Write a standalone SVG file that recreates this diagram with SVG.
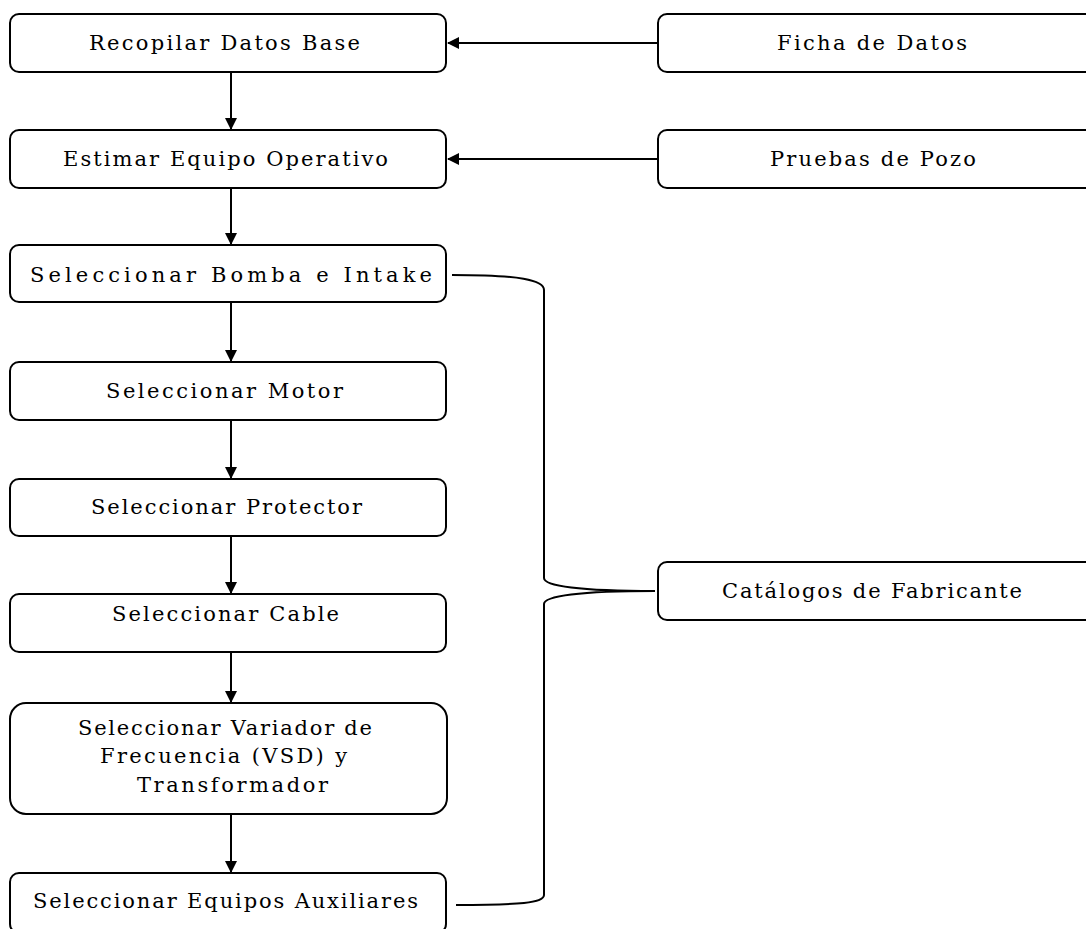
<svg xmlns="http://www.w3.org/2000/svg" width="1086" height="929" viewBox="0 0 1086 929">
<style>
.box{fill:#fff;stroke:#000;stroke-width:2}
.t{font-family:"DejaVu Serif","Liberation Serif",serif;font-size:21px;fill:#000}
.c{fill:none;stroke:#000;stroke-width:2}
</style>
<defs>
<marker id="ah" markerWidth="12" markerHeight="12" refX="11" refY="6" orient="auto" markerUnits="userSpaceOnUse">
<path d="M0,0 L12,6 L0,12 Z" fill="#000"/>
</marker>
</defs>
<rect width="1086" height="929" fill="#fff"/>
<g id="n1"><rect class="box" x="10" y="14" width="436" height="58" rx="9"/><text class="t" x="89" y="50" textLength="271" lengthAdjust="spacing">Recopilar Datos Base</text></g>
<g id="n2"><rect class="box" x="10" y="130" width="436" height="58" rx="9"/><text class="t" x="63" y="166" textLength="325" lengthAdjust="spacing">Estimar Equipo Operativo</text></g>
<g id="n3"><rect class="box" x="10" y="245" width="436" height="57" rx="9"/><text class="t" x="30" y="282" textLength="402" lengthAdjust="spacing">Seleccionar Bomba e Intake</text></g>
<g id="n4"><rect class="box" x="10" y="362" width="436" height="58" rx="9"/><text class="t" x="106" y="398" textLength="237" lengthAdjust="spacing">Seleccionar Motor</text></g>
<g id="n5"><rect class="box" x="10" y="479" width="436" height="57" rx="9"/><text class="t" x="91" y="514" textLength="271" lengthAdjust="spacing">Seleccionar Protector</text></g>
<g id="n6"><rect class="box" x="10" y="594" width="436" height="58" rx="9"/><text class="t" x="112" y="621" textLength="227" lengthAdjust="spacing">Seleccionar Cable</text></g>
<g id="n7"><rect class="box" x="10" y="703" width="437" height="111" rx="16"/>
<text class="t" x="78" y="735" textLength="294" lengthAdjust="spacing">Seleccionar Variador de</text>
<text class="t" x="100" y="763" textLength="247" lengthAdjust="spacing">Frecuencia (VSD) y</text>
<text class="t" x="137" y="792" textLength="191" lengthAdjust="spacing">Transformador</text></g>
<g id="n8"><rect class="box" x="10" y="873" width="436" height="60" rx="9"/><text class="t" x="33" y="908" textLength="385" lengthAdjust="spacing">Seleccionar Equipos Auxiliares</text></g>
<g id="n9"><rect class="box" x="658" y="14" width="440" height="58" rx="9"/><text class="t" x="777" y="50" textLength="190" lengthAdjust="spacing">Ficha de Datos</text></g>
<g id="n10"><rect class="box" x="658" y="130" width="440" height="58" rx="9"/><text class="t" x="770" y="166" textLength="206" lengthAdjust="spacing">Pruebas de Pozo</text></g>
<g id="n11"><rect class="box" x="658" y="562" width="440" height="58" rx="9"/><text class="t" x="722" y="598" textLength="300" lengthAdjust="spacing">Catálogos de Fabricante</text></g>
<g id="connectors">
<line class="c" x1="658" y1="43" x2="448" y2="43" marker-end="url(#ah)"/>
<line class="c" x1="658" y1="159" x2="448" y2="159" marker-end="url(#ah)"/>
<line class="c" x1="231" y1="72" x2="231" y2="129" marker-end="url(#ah)"/>
<line class="c" x1="231" y1="188" x2="231" y2="244" marker-end="url(#ah)"/>
<line class="c" x1="231" y1="302" x2="231" y2="361" marker-end="url(#ah)"/>
<line class="c" x1="231" y1="420" x2="231" y2="478" marker-end="url(#ah)"/>
<line class="c" x1="231" y1="536" x2="231" y2="593" marker-end="url(#ah)"/>
<line class="c" x1="231" y1="652" x2="231" y2="702" marker-end="url(#ah)"/>
<line class="c" x1="231" y1="814" x2="231" y2="872" marker-end="url(#ah)"/>
<path class="c" d="M452,275 C520,275 544,280 544,290 L544,578 C544,586 580,591 655,591 C580,591 544,596 544,604 L544,895 C544,903 520,905 456,905"/>
</g>
</svg>
